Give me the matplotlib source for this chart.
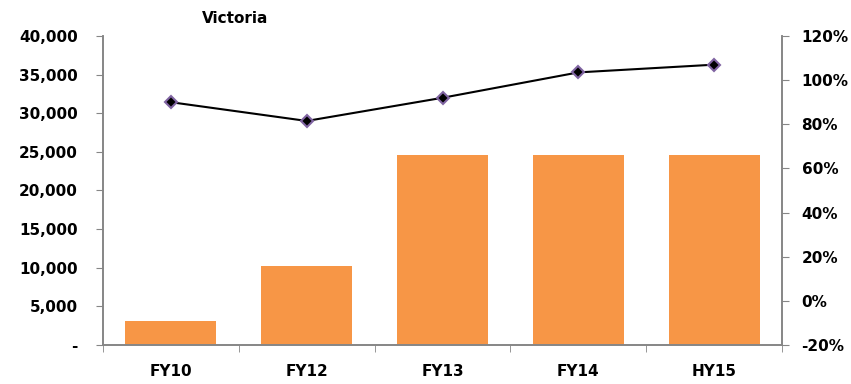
import matplotlib.pyplot as plt
import numpy as np
from matplotlib.ticker import FuncFormatter, FixedLocator

# Victoria: volume bars (left axis) and ratio line (right axis)
periods = ['FY10', 'FY12', 'FY13', 'FY14', 'HY15']
volume = [3100, 10250, 24600, 24600, 24600]
ratio = [90, 81.5, 92, 103.5, 107]  # percent

plt.rcParams['font.family'] = ['DejaVu Sans']
plt.rcParams['font.weight'] = 'bold'

fig = plt.figure(figsize=(8.51, 3.84), dpi=100)
ax = fig.add_axes([0.121, 0.1016, 0.798, 0.8047])
ax2 = ax.twinx()

grey = '#868686'
x = np.arange(len(periods))

ax.bar(x, volume, width=0.67, color='#f79646', zorder=2)
ax2.plot(x, ratio, color='black', lw=1.5, marker='D', markersize=6.5,
         markerfacecolor='black', markeredgecolor='#8064a2', markeredgewidth=1.5, zorder=3)

ax.set_xlim(-0.5, len(periods) - 0.5)
ax.set_ylim(0, 40000)
ax.set_yticks(np.arange(0, 40001, 5000))
ax.yaxis.set_major_formatter(FuncFormatter(lambda v, p: '-' if v == 0 else f'{int(v):,}'))

ax2.set_ylim(-20, 120)
ax2.set_yticks(np.arange(-20, 121, 20))
ax2.yaxis.set_major_formatter(FuncFormatter(lambda v, p: f'{int(v)}%'))

ax.set_xticks(x)
ax.set_xticklabels(periods)
ax.xaxis.set_minor_locator(FixedLocator(np.arange(-0.5, len(periods), 1.0)))
ax.tick_params(axis='x', which='major', length=0, pad=14, labelsize=11)
ax.tick_params(axis='x', which='minor', length=5, color=grey, direction='out')

for a in (ax, ax2):
    a.spines['top'].set_visible(False)
    for s in ('left', 'right', 'bottom'):
        a.spines[s].set_color(grey)
        a.spines[s].set_linewidth(1.2)
ax.tick_params(axis='y', length=5, color=grey, labelsize=11, pad=13)
ax2.tick_params(axis='y', length=5, color=grey, labelsize=11, pad=9)

for lab in ax.get_xticklabels() + ax.get_yticklabels() + ax2.get_yticklabels():
    lab.set_fontweight('bold')

fig.text(0.276, 0.953, 'Victoria', ha='center', va='center', fontsize=11, fontweight='bold')

fig.savefig('out.png', dpi=100)
